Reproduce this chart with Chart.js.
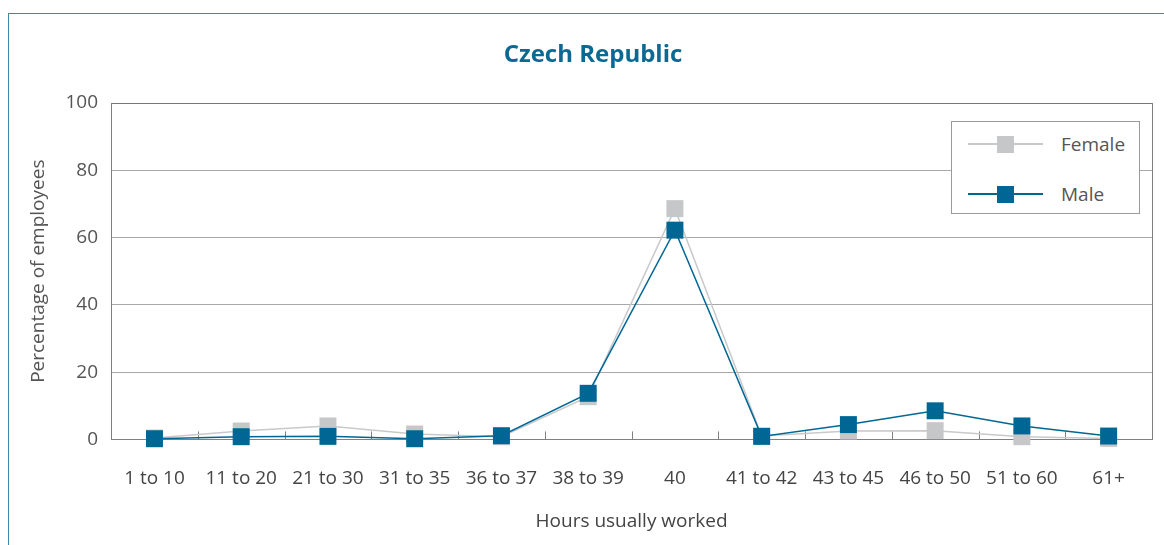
<!DOCTYPE html>
<html>
<head>
<meta charset="utf-8">
<script src="https://cdn.jsdelivr.net/npm/chart.js@4/dist/chart.umd.min.js"></script>
<style>
  html, body { margin: 0; padding: 0; background: #fff; }
  #wrap { position: relative; width: 1164px; height: 545px; overflow: hidden; font-family: "Open Sans", sans-serif; }
  #frame { position: absolute; left: 8px; top: 13px; width: 2000px; height: 2000px; border-left: 1px solid #3a8aa8; border-top: 1px solid #3a8aa8; }
  #chart { position: absolute; left: 0; top: 0; }
  #legend { position: absolute; left: 951px; top: 121px; width: 187px; height: 91px; border: 1px solid #9a9a9a; background: #fff; }
  .row { position: absolute; left: 0; width: 100%; height: 0; }
  .row .ln { position: absolute; left: 16px; width: 75px; height: 1.5px; top: -0.75px; }
  .row .mk { position: absolute; left: 45px; width: 17px; height: 17px; top: -8.5px; }
  .row .tx { position: absolute; left: 109px; top: -13px; font-size: 19px; line-height: 26px; color: #555; }
</style>
</head>
<body>
<div id="wrap">
  <div id="frame"></div>
  <canvas id="chart" width="1164" height="545"></canvas>
  <div id="legend">
    <div class="row" style="top:22px"><div class="ln" style="background:#c8c9cb"></div><div class="mk" style="background:#c6c7c9"></div><div class="tx">Female</div></div>
    <div class="row" style="top:72px"><div class="ln" style="background:#006794"></div><div class="mk" style="background:#006794"></div><div class="tx">Male</div></div>
  </div>
</div>
<script>
const categories = ['1 to 10', '11 to 20', '21 to 30', '31 to 35', '36 to 37', '38 to 39', '40', '41 to 42', '43 to 45', '46 to 50', '51 to 60', '61+'];
const female = [0.4, 2.5, 4.0, 1.6, 0.8, 12.7, 68.6, 1.0, 2.5, 2.6, 0.8, 0.3];
const male = [0.2, 0.8, 0.9, 0.2, 1.1, 13.7, 62.2, 0.9, 4.4, 8.5, 4.0, 1.0];
const yTicks = [0, 20, 40, 60, 80, 100];

const FONT = '"Open Sans", sans-serif';

// small tick marks between categories, pointing up into the plot, plus right border
const framePlugin = {
  id: 'frame',
  beforeDatasetsDraw(chart) {
    const ctx = chart.ctx;
    const x = chart.scales.x;
    const area = chart.chartArea;
    ctx.save();
    ctx.strokeStyle = '#808080';
    ctx.lineWidth = 1;
    ctx.beginPath();
    for (let i = 1; i < categories.length; i++) {
      const px = Math.round(x.getPixelForValue(i - 0.5)) + 0.5;
      ctx.moveTo(px, area.bottom);
      ctx.lineTo(px, area.bottom - 8);
    }
    const rx = Math.round(area.right) + 0.5;
    ctx.moveTo(rx, area.top);
    ctx.lineTo(rx, area.bottom);
    ctx.stroke();
    ctx.restore();
  }
};

new Chart(document.getElementById('chart').getContext('2d'), {
  type: 'line',
  data: {
    labels: categories,
    datasets: [
      {
        label: 'Female', data: female, order: 2,
        borderColor: '#c8c9cb', backgroundColor: '#c6c7c9', borderWidth: 1.5,
        pointStyle: 'rect', pointRadius: 12, pointHoverRadius: 12, pointBorderWidth: 0,
        pointBackgroundColor: '#c6c7c9', tension: 0, clip: false
      },
      {
        label: 'Male', data: male, order: 1,
        borderColor: '#006794', backgroundColor: '#006794', borderWidth: 1.5,
        pointStyle: 'rect', pointRadius: 12, pointHoverRadius: 12, pointBorderWidth: 0,
        pointBackgroundColor: '#006794', tension: 0, clip: false
      }
    ]
  },
  options: {
    responsive: false,
    animation: false,
    events: [],
    layout: { padding: { top: 0, left: 28, right: 6, bottom: 0 } },
    plugins: {
      legend: { display: false },
      tooltip: { enabled: false },
      title: {
        display: true, text: 'Czech Republic', color: '#0a6a94',
        font: { family: FONT, size: 24, weight: 'bold' },
        padding: { top: 40.6, bottom: 33.6 }
      }
    },
    scales: {
      x: {
        offset: true,
        grid: { display: true, drawOnChartArea: false, drawTicks: false },
        border: { color: '#808080', width: 1 },
        ticks: { color: '#444', font: { family: FONT, size: 19 }, padding: 27.6, maxRotation: 0, autoSkip: false },
        title: { display: true, text: 'Hours usually worked', color: '#444', font: { family: FONT, size: 19 }, padding: { top: -6.8, bottom: 11.6 } }
      },
      y: {
        min: 0, max: 100,
        afterBuildTicks(scale) { scale.ticks = yTicks.map(v => ({ value: v })); },
        grid: {
          drawTicks: false,
          color: ctx => (ctx.tick && (ctx.tick.value === 0 || ctx.tick.value === 100)) ? '#777' : '#a8a8a8'
        },
        border: { color: '#808080', width: 1 },
        ticks: { color: '#555', font: { family: FONT, size: 19 }, padding: 13 },
        title: { display: true, text: 'Percentage of employees', color: '#555', font: { family: FONT, size: 19 }, padding: { top: -1, bottom: 2.7 } }
      }
    }
  },
  plugins: [framePlugin]
});
</script>
</body>
</html>
